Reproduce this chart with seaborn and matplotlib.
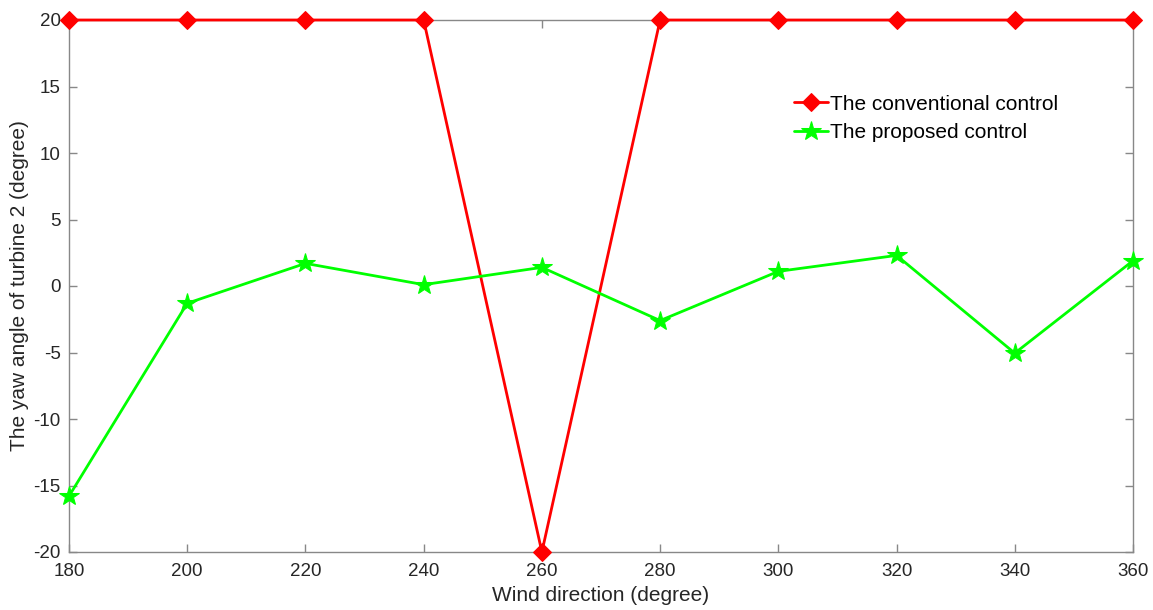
import numpy as np
import pandas as pd
import matplotlib
matplotlib.use('Agg')
import matplotlib.pyplot as plt
import seaborn as sns

wind_dir = [180, 200, 220, 240, 260, 280, 300, 320, 340, 360]
conventional = [20, 20, 20, 20, -20, 20, 20, 20, 20, 20]
proposed = [-15.8, -1.3, 1.7, 0.1, 1.4, -2.6, 1.1, 2.3, -5.05, 1.9]

sns.set_style('white')
plt.rcParams['font.family'] = ['Liberation Sans', 'DejaVu Sans']
plt.rcParams['axes.unicode_minus'] = False

fig = plt.figure(figsize=(11.53, 6.10), dpi=100)
ax = fig.add_axes([69 / 1153, 1 - 552 / 610, 1064 / 1153, 532 / 610])

sns.lineplot(x=wind_dir, y=conventional, ax=ax, color='#ff0000', lw=2,
             marker='D', markersize=9, markeredgecolor='#ff0000',
             label='The conventional control', clip_on=False, zorder=3)
sns.lineplot(x=wind_dir, y=proposed, ax=ax, color='#00ff00', lw=2,
             marker='*', markersize=15, markeredgecolor='#00ff00',
             label='The proposed control', clip_on=False, zorder=3)

ax.set_xlim(180, 360)
ax.set_ylim(-20, 20)
ax.set_xticks(np.arange(180, 361, 20))
ax.set_yticks(np.arange(-20, 21, 5))
ax.tick_params(direction='in', length=6, width=1, color='#888888',
               labelsize=13.5, labelcolor='#262626',
               top=True, right=True, bottom=True, left=True)
ax.tick_params(axis='x', pad=8)
ax.tick_params(axis='y', pad=6)
for s in ax.spines.values():
    s.set_color('#888888')
    s.set_linewidth(1)
ax.set_xlabel('Wind direction (degree)', fontsize=15, labelpad=4,
              color='#262626')
ax.set_ylabel('The yaw angle of turbine 2 (degree)', fontsize=15,
              color='#262626')
ax.yaxis.set_label_coords(-0.038, 0.5)
leg = ax.legend(loc='upper left', bbox_to_anchor=(0.672, 0.879),
                frameon=False, fontsize=15, handlelength=1.6,
                handletextpad=0.1, borderpad=0, labelspacing=0.45)
for t in leg.get_texts():
    t.set_color('#000000')

fig.savefig('out.png', dpi=100)
